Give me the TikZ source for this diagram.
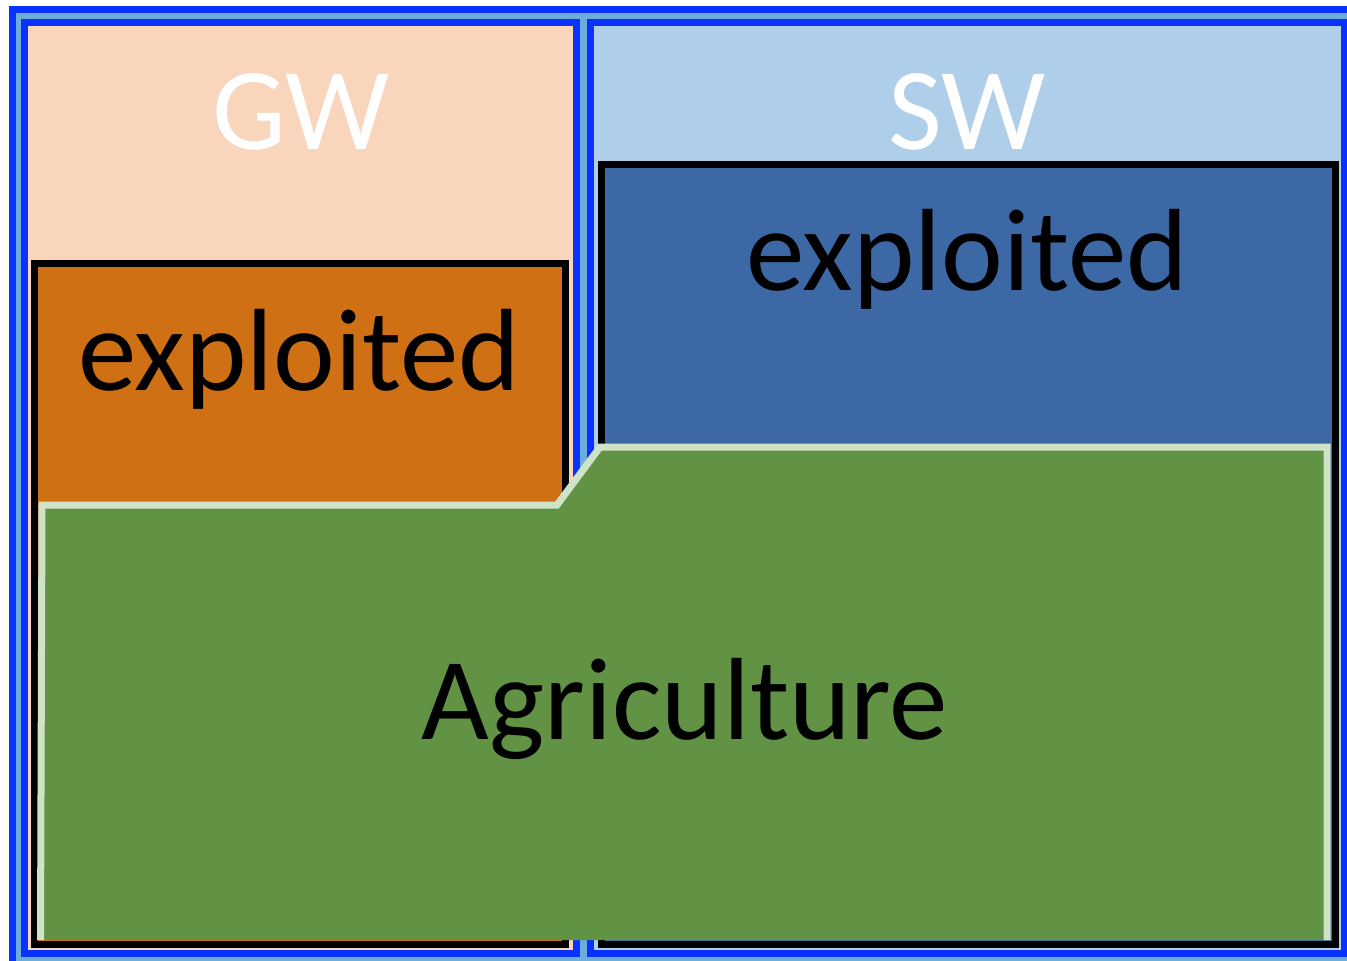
\documentclass[tikz,border=0pt]{standalone}
\usepackage{fontspec}
\setmainfont{Carlito}
\definecolor{frameblue}{HTML}{0A32FF}
\definecolor{gapblue}{HTML}{6CADDB}
\definecolor{gwfill}{HTML}{F9D5BC}
\definecolor{swfill}{HTML}{AECEEA}
\definecolor{gwexpl}{HTML}{D07014}
\definecolor{swexpl}{HTML}{3C69A6}
\definecolor{agri}{HTML}{629244}
\definecolor{agriedge}{HTML}{CFE3C6}
\tikzset{
  x=0.5pt, y=-0.5pt,
  frame/.style={draw=frameblue, line width=3.5pt},
  exbox/.style={draw=black, line width=3.5pt},
  bigtext/.style={font=\fontsize{58.5pt}{61pt}\selectfont, anchor=base, inner sep=0pt},
}
\begin{document}
\begin{tikzpicture}
\useasboundingbox (0,0) rectangle (1347,960);
\clip (0,0) rectangle (1347,960);
\fill[white] (0,0) rectangle (1347,960);
% outer frame
\filldraw[frame, fill=gapblue] (12,9.5) rectangle (1352,964);
% groundwater and surface water columns
\filldraw[frame, fill=gwfill] (24.5,22.2) rectangle (576.7,953.5);
\filldraw[frame, fill=swfill] (590,22.2) rectangle (1344.5,953.5);
% exploited parts
\filldraw[exbox, fill=gwexpl] (34.3,263.7) rectangle (565,944.3);
\filldraw[exbox, fill=swexpl] (601,164.2) rectangle (1335,944.6);
% agriculture share
\fill[agri] (41,940) -- (42,505) -- (557,505) -- (600,447) -- (1327,447) -- (1327,940) -- cycle;
\draw[agriedge, line width=3.5pt] (40.5,940) -- (42,505) -- (557,505) -- (600,447) -- (1327,447) -- (1327,940);
% labels
\node[bigtext, text=white] (gw) at (301,149) {GW};
\node[bigtext, text=white] (sw) at (967,149) {SW};
\node[bigtext] (gwex) at (299,390) {exploited};
\node[bigtext] (swex) at (967,290) {exploited};
\node[bigtext] (ag) at (685,739) {Agriculture};
\end{tikzpicture}
\end{document}
